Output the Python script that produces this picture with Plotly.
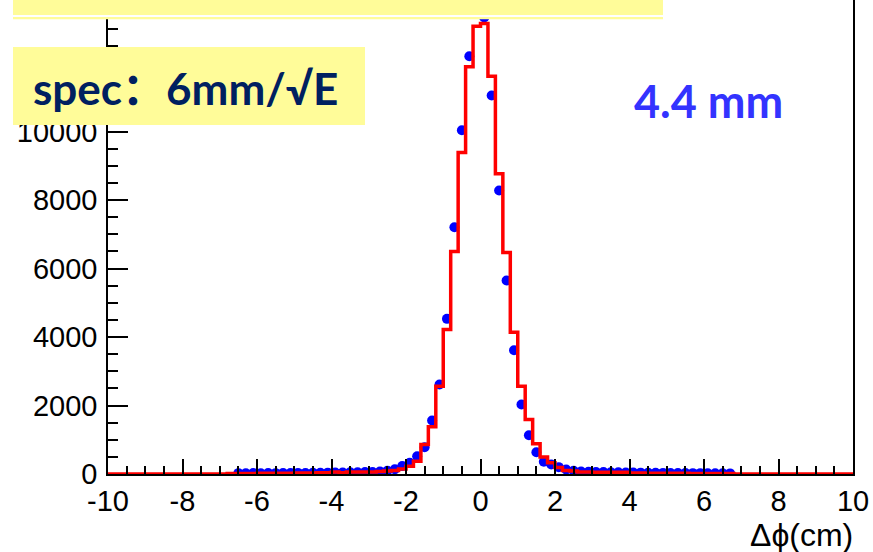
import plotly.graph_objects as go

# ---------------- data ----------------
bin_start = -10.0
bin_width = 0.2
# red histogram: 100 bins from -10 to 10
red_counts = [
    0, 0, 0, 0, 0, 0, 0, 0, 0, 0,            # -10.0 .. -8.0
    0, 0, 0, 0, 0, 0,                        # -8.0 .. -6.8
    15, 15, 18, 18, 20, 20, 22, 25, 25, 28, 30, 30, 35, 40,   # -6.8 .. -4.0
    60, 35, 55, 58, 60, 62, 75, 85, 105, 145,                 # -4.0 .. -2.0
    228, 374, 861, 1378, 2563, 4219, 6496, 9387, 11889, 13074,  # -2.0 .. 0.0
    13153, 11615, 8765, 6467, 4140, 2563, 1591, 882, 500, 330,  # 0.0 .. 2.0
    190, 100, 90, 55, 55, 52, 52, 50, 50, 48,                   # 2.0 .. 4.0
    28, 26, 25, 24, 22, 22, 20, 20, 18, 18, 16, 16, 15, 15,     # 4.0 .. 6.8
    0, 0, 0, 0, 0, 0,                        # 6.8 .. 8.0
    0, 0, 0, 0, 0, 0, 0, 0, 0, 0,            # 8.0 .. 10.0
]
# blue data points at bin centres from -6.5 to 6.7
blue_first_center = -6.5
blue_counts = [
    25, 20, 30, 22, 28, 25, 30, 28, 32, 30,          # -6.5 .. -4.7
    35, 38, 40, 45, 42, 48, 50, 55, 60, 70,          # -4.5 .. -2.7
    95, 140, 230, 330, 520, 783, 1562, 2613, 4530, 7206,   # -2.5 .. -0.7
    10038, 12199, 13600, 13330, 11051, 8277, 5650, 3615, 2029, 1133,  # -0.5 .. 1.3
    637, 356, 277, 200, 130, 95, 75, 65, 60, 55,     # 1.5 .. 3.3
    50, 48, 45, 42, 40, 38, 35, 32, 30, 30,          # 3.5 .. 5.3
    28, 25, 25, 22, 20, 20, 18,                      # 5.5 .. 6.7
]
x_tick_vals = [-10, -8, -6, -4, -2, 0, 2, 4, 6, 8, 10]
x_tick_text = ["-10", "-8", "-6", "-4", "-2", "0", "2", "4", "6", "8", "10"]
y_tick_vals = [0, 2000, 4000, 6000, 8000, 10000, 12000]
y_tick_text = ["0", "2000", "4000", "6000", "8000", "10000", ""]   # 12000 hidden behind the note box
x_title = "Δϕ(cm)"
spec_text = "spec：6mm/√E"
res_text = "4.4 mm"

# ---------------- derived ----------------
edges = [round(bin_start + bin_width * i, 2) for i in range(len(red_counts) + 1)]
red_x = edges
red_y = red_counts + [red_counts[-1]]
blue_x = [round(blue_first_center + bin_width * k, 2) for k in range(len(blue_counts))]

W, H = 873, 552
L, R, T, B = 108, 853, 0, 474   # plot area in pixels


def pxx(px):
    return (px - L) / (R - L)


def pxy(py):
    return (B - py) / (B - T)


fig = go.Figure()
fig.add_trace(go.Scatter(
    x=blue_x, y=blue_counts, mode="markers",
    marker=dict(color="#0000ff", size=10, line=dict(width=0)),
    showlegend=False,
))
fig.add_trace(go.Scatter(
    x=red_x, y=red_y, mode="lines", line=dict(color="#ff0000", width=3.5, shape="hv"),
    showlegend=False,
))

y_top = B / (34.25 / 1000.0)

tickfont = dict(family="Liberation Sans, Arial, sans-serif", size=29, color="#000000")
fig.update_layout(
    width=W, height=H,
    margin=dict(l=L, r=W - R, t=T, b=H - B, pad=0),
    paper_bgcolor="white", plot_bgcolor="white",
    xaxis=dict(range=[-10, 10], tickvals=x_tick_vals, ticktext=x_tick_text, ticks="inside", ticklen=15,
               tickwidth=1.5, tickcolor="#000", showline=True, linecolor="#000", linewidth=1.5,
               mirror=False, showgrid=False, zeroline=False, tickfont=tickfont,
               minor=dict(dtick=0.5, ticks="inside", ticklen=8, tickwidth=1.5, tickcolor="#000", showgrid=False),
               ticklabelstandoff=0),
    yaxis=dict(range=[0, y_top], tickvals=y_tick_vals, ticktext=y_tick_text, ticks="inside", ticklen=20,
               tickwidth=1.5, tickcolor="#000", showline=True, linecolor="#000", linewidth=1.5,
               mirror=True, showgrid=False, zeroline=False, tickfont=tickfont,
               minor=dict(dtick=500, ticks="inside", ticklen=10, tickwidth=1.5, tickcolor="#000", showgrid=False),
               ticklabelstandoff=3),
)

yellow = "#fffc99"
shapes = [
    dict(type="rect", xref="paper", yref="paper", x0=pxx(13), x1=pxx(663), y0=pxy(19.3), y1=pxy(-5),
         fillcolor=yellow, line=dict(width=0), layer="above"),
    dict(type="rect", xref="paper", yref="paper", x0=pxx(13), x1=pxx(663), y0=pxy(17), y1=pxy(15),
         fillcolor="white", line=dict(width=0), layer="above"),
    dict(type="rect", xref="paper", yref="paper", x0=pxx(13), x1=pxx(365), y0=pxy(125), y1=pxy(47),
         fillcolor=yellow, line=dict(width=0), layer="above"),
]
fig.update_layout(shapes=shapes)

fig.add_annotation(text=spec_text, xref="paper", yref="paper", x=pxx(31), y=pxy(88),
                   xanchor="left", yanchor="middle", showarrow=False,
                   font=dict(family="Lato, Noto Sans CJK SC, sans-serif", size=44, color="#002060", weight="bold"))
fig.add_annotation(text=res_text, xref="paper", yref="paper", x=pxx(632), y=pxy(101),
                   xanchor="left", yanchor="middle", showarrow=False,
                   font=dict(family="Lato, sans-serif", size=45, color="#3333ff", weight="bold"))
fig.add_annotation(text=x_title, xref="paper", yref="paper", x=pxx(855), y=pxy(535),
                   xanchor="right", yanchor="middle", showarrow=False,
                   font=dict(family="Liberation Sans, Arial, sans-serif", size=32, color="#000000"))

fig.write_html("out.html")
